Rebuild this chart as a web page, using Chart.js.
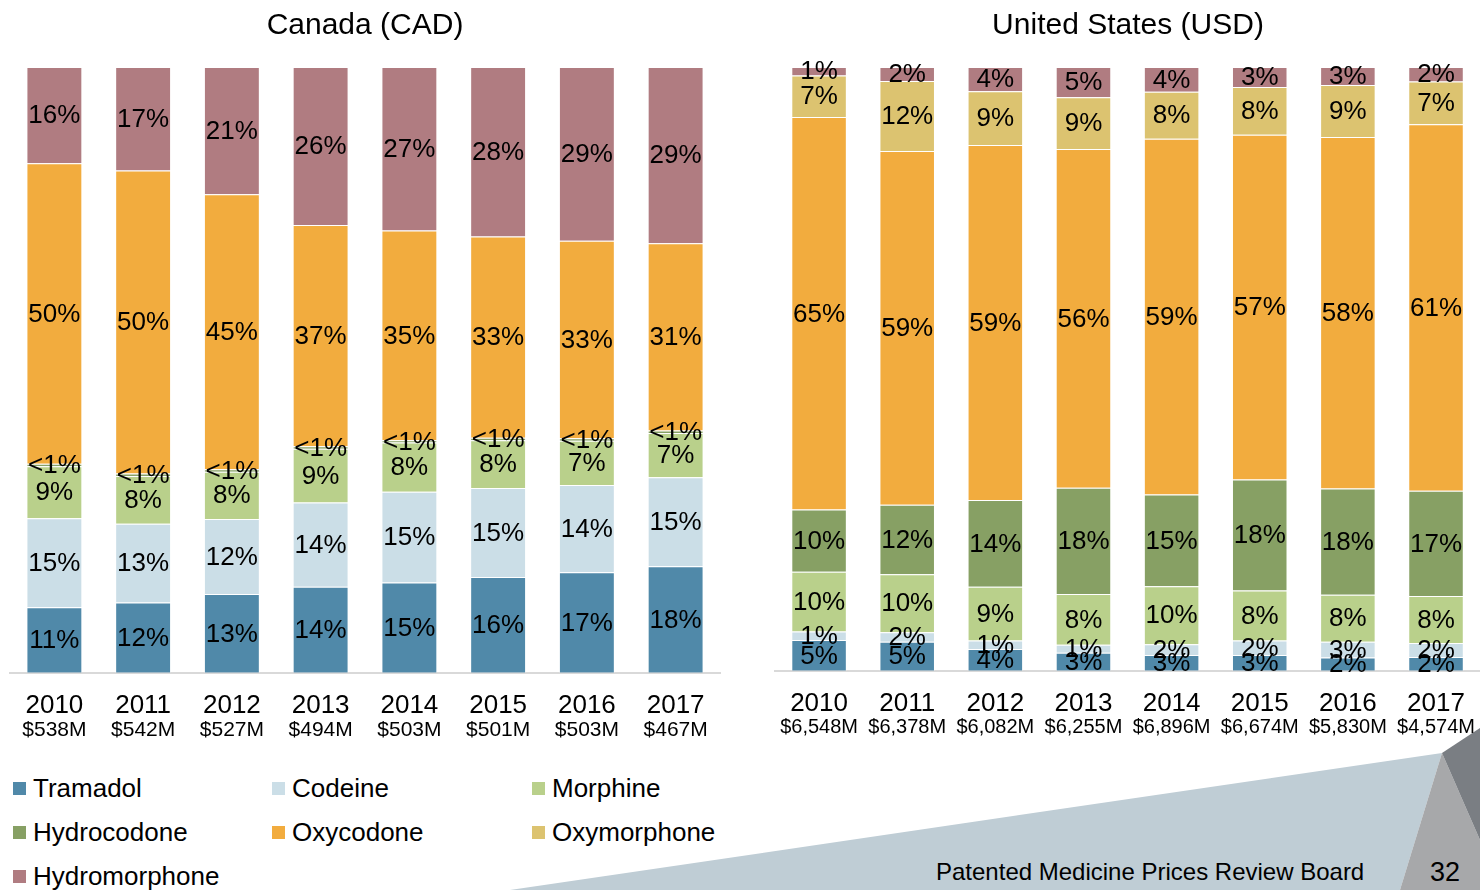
<!DOCTYPE html>
<html>
<head>
<meta charset="utf-8">
<script src="https://cdn.jsdelivr.net/npm/chart.js@4.4.1/dist/chart.umd.min.js"></script>
<style>
body { margin: 0; width: 1480px; height: 890px; overflow: hidden; background: #fff; position: relative; font-family: "Liberation Sans", Arial, sans-serif; color: #000; }
#fondo { position: absolute; left: 0; top: 0; }
#graficaCanada { position: absolute; left: 0; top: 0; }
#graficaUSA { position: absolute; left: 760px; top: 0; }
.leyenda { position: absolute; left: 13px; top: 766px; display: grid; grid-template-columns: 259px 260px 260px; grid-auto-rows: 44px; font-size: 26px; }
.leyenda div { display: flex; align-items: center; }
.leyenda span { display: inline-block; width: 13px; height: 13px; margin-right: 7px; }
.pie { position: absolute; left: 936px; top: 858px; font-size: 24px; line-height: 28px; }
.pagina { position: absolute; left: 1430px; top: 857px; font-size: 27px; line-height: 30px; }
</style>
</head>
<body>
<svg id="fondo" width="1480" height="890">
  <polygon points="510,890 1442,753 1400,890" fill="#bfcdd5"/>
  <polygon points="1442,753 1480,840 1480,890 1400,890" fill="#a7a8aa"/>
  <polygon points="1442,753 1480,728 1480,840" fill="#7a7e83"/>
</svg>
<canvas id="graficaCanada" width="740" height="750"></canvas>
<canvas id="graficaUSA" width="722" height="750"></canvas>
<div class="leyenda" id="leyenda"></div>
<div class="pie">Patented Medicine Prices Review Board</div>
<div class="pagina">32</div>
<script>
// Categorias
const anios = ["2010", "2011", "2012", "2013", "2014", "2015", "2016", "2017"];
const ventasCanada = ["$538M", "$542M", "$527M", "$494M", "$503M", "$501M", "$503M", "$467M"];
const ventasUSA = ["$6,548M", "$6,378M", "$6,082M", "$6,255M", "$6,896M", "$6,674M", "$5,830M", "$4,574M"];

const farmacos = ["Tramadol", "Codeine", "Morphine", "Hydrocodone", "Oxycodone", "Oxymorphone", "Hydromorphone"];
const colores = ["#5089a9", "#cbdee7", "#b9d08b", "#87a064", "#f2ac3e", "#dcc370", "#b07c81"];

// Canada (% de ventas)
const canTramadol      = [10.8, 11.6, 13.0, 14.2, 14.9, 15.8, 16.6, 17.6];
const canCodeine       = [14.7, 13.0, 12.4, 13.9, 15.0, 14.7, 14.4, 14.7];
const canMorphine      = [8.6, 7.9, 7.8, 8.9, 8.1, 7.9, 7.3, 7.3];
const canHydrocodone   = [0.4, 0.4, 0.4, 0.4, 0.4, 0.4, 0.4, 0.4];
const canOxycodone     = [49.6, 50.0, 45.4, 36.5, 34.6, 33.2, 32.6, 30.9];
const canOxymorphone   = [0, 0, 0, 0, 0, 0, 0, 0];
const canHydromorphone = [15.9, 17.1, 21.0, 26.1, 27.0, 28.0, 28.7, 29.1];

// Estados Unidos (% de ventas)
const usaTramadol      = [5.1, 4.8, 3.6, 3.0, 2.6, 2.6, 2.2, 2.3];
const usaCodeine       = [1.4, 1.6, 1.4, 1.3, 1.8, 2.4, 2.6, 2.3];
const usaMorphine      = [9.9, 9.6, 8.9, 8.4, 9.6, 8.3, 7.8, 7.8];
const usaHydrocodone   = [10.3, 11.5, 14.4, 17.6, 15.2, 18.4, 17.6, 17.4];
const usaOxycodone     = [65.0, 58.6, 58.8, 56.1, 58.9, 57.1, 58.2, 60.7];
const usaOxymorphone   = [6.9, 11.6, 8.9, 8.6, 7.8, 7.9, 8.6, 7.1];
const usaHydromorphone = [1.4, 2.3, 4.0, 5.0, 4.1, 3.3, 3.0, 2.4];

const fuente = '"Liberation Sans", Arial, sans-serif';

// Etiquetas de porcentaje en el centro de cada segmento
const etiquetas = {
    id: 'etiquetas',
    afterDatasetsDraw(chart) {
        const ctx = chart.ctx;
        ctx.save();
        ctx.font = '26px ' + fuente;
        ctx.fillStyle = '#000';
        ctx.textAlign = 'center';
        ctx.textBaseline = 'middle';
        chart.data.datasets.forEach((ds, i) => {
            chart.getDatasetMeta(i).data.forEach((bar, j) => {
                const v = ds.data[j];
                if (!v) return;
                const texto = v < 1 ? '<1%' : Math.round(v) + '%';
                ctx.fillText(texto, bar.x, (bar.y + bar.base) / 2 + 1);
            });
        });
        ctx.restore();
    }
};

// Ventas totales debajo de cada anio
const ventas = {
    id: 'ventas',
    afterDraw(chart, args, opts) {
        const ctx = chart.ctx;
        const x = chart.scales.x;
        ctx.save();
        ctx.font = opts.tam + 'px ' + fuente;
        ctx.fillStyle = '#000';
        ctx.textAlign = 'center';
        ctx.textBaseline = 'middle';
        opts.textos.forEach((t, j) => {
            ctx.fillText(t, x.getPixelForValue(j), chart.chartArea.bottom + 57);
        });
        ctx.restore();
    }
};

function crearGrafica(canvas, titulo, textosVentas, series, padding, tamVentas) {
    return new Chart(canvas, {
        type: 'bar',
        data: {
            labels: anios,
            datasets: series.map((s, i) => ({
                label: farmacos[i],
                data: s,
                backgroundColor: colores[i],
                borderColor: 'rgba(255,255,255,0.45)',
                borderWidth: 1,
                categoryPercentage: 1,
                barPercentage: 0.63
            }))
        },
        options: {
            responsive: false,
            animation: false,
            layout: { padding: padding },
            plugins: {
                legend: { display: false },
                tooltip: { enabled: false },
                title: {
                    display: true,
                    text: titulo,
                    color: '#000',
                    font: { size: 30, family: fuente, weight: 'normal' },
                    padding: { top: 8, bottom: 23 }
                },
                ventas: { textos: textosVentas, tam: tamVentas }
            },
            scales: {
                x: {
                    stacked: true,
                    grid: { display: false, drawTicks: false },
                    border: { display: true, color: '#d9d9d9', width: 2 },
                    ticks: { color: '#000', font: { size: 26, family: fuente }, padding: 17, maxRotation: 0, autoSkip: false }
                },
                y: { stacked: true, display: false, min: 0, max: 100 }
            }
        },
        plugins: [etiquetas, ventas]
    });
}

crearGrafica(document.getElementById('graficaCanada'), 'Canada (CAD)', ventasCanada,
    [canTramadol, canCodeine, canMorphine, canHydrocodone, canOxycodone, canOxymorphone, canHydromorphone],
    { left: 10, right: 20, top: 0, bottom: 12 }, 21);

crearGrafica(document.getElementById('graficaUSA'), 'United States (USD)', ventasUSA,
    [usaTramadol, usaCodeine, usaMorphine, usaHydrocodone, usaOxycodone, usaOxymorphone, usaHydromorphone],
    { left: 15, right: 1, top: 0, bottom: 14 }, 20);

// Leyenda
const leyenda = document.getElementById('leyenda');
farmacos.forEach((f, i) => {
    const d = document.createElement('div');
    d.innerHTML = '<span style="background:' + colores[i] + '"></span>' + f;
    leyenda.appendChild(d);
});
</script>
</body>
</html>
